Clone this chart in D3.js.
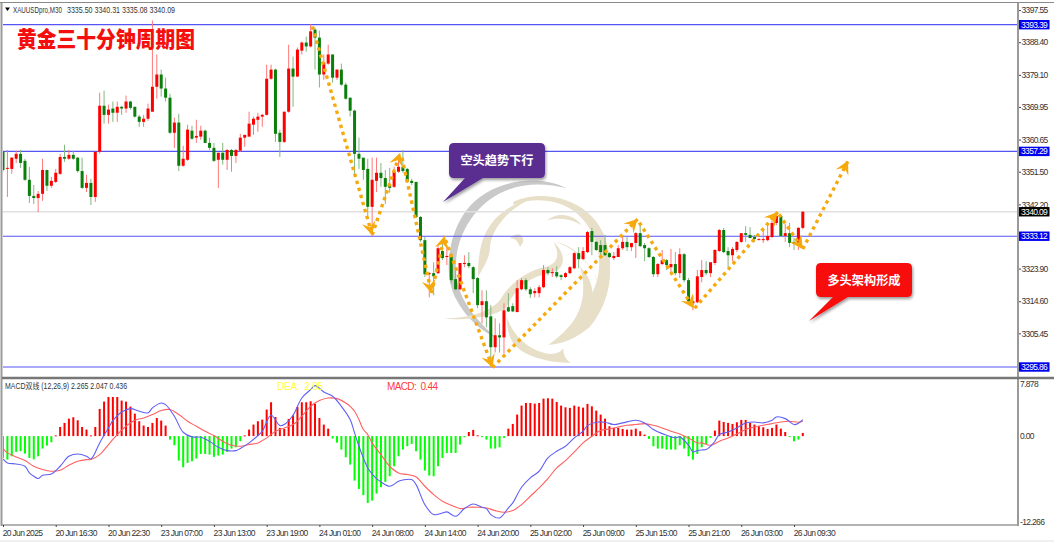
<!DOCTYPE html>
<html><head><meta charset="utf-8">
<style>
html,body{margin:0;padding:0;background:#fff;overflow:hidden}
svg{display:block}
text{font-family:"Liberation Sans","Noto Sans CJK SC",sans-serif}
.ax text{font-size:8.5px;fill:#333;letter-spacing:-.65px;font-family:"Liberation Sans","Noto Sans CJK SC",sans-serif}
.ax line{stroke:#444}
.ax path{display:none}
</style>
<script src="https://cdn.jsdelivr.net/npm/d3@7/dist/d3.min.js"></script>
</head><body><svg id="c" width="1054" height="542"></svg>
<script>
const opens=[3357.2,3352.4,3352.3,3355.2,3356.6,3354.6,3349.2,3344.6,3344.0,3345.2,
3352.0,3347.5,3348.6,3350.9,3355.7,3355.2,3356.3,3355.5,3351.7,3346.9,
3348.3,3344.3,3357.2,3370.3,3367.7,3369.5,3368.3,3370.0,3369.5,3371.5,
3370.0,3367.2,3365.7,3366.6,3368.6,3375.7,3379.2,3375.2,3372.6,3362.6,
3365.5,3353.2,3354.9,3363.2,3361.2,3361.5,3363.2,3359.7,3358.3,3354.9,
3356.9,3354.9,3357.7,3356.0,3357.5,3361.2,3361.5,3364.9,3366.3,3367.2,
3367.7,3378.0,3380.6,3362.6,3360.0,3368.6,3380.9,3378.6,3386.0,3388.3,
3387.2,3392.0,3389.7,3379.2,3382.3,3384.9,3378.3,3380.6,3376.3,3372.6,
3368.9,3356.6,3355.5,3352.3,3341.5,3348.9,3351.2,3349.7,3347.7,3347.2,
3351.5,3352.9,3352.3,3348.9,3348.6,3338.6,3332.0,3322.3,3322.6,3322.6,
3328.9,3327.2,3327.2,3320.9,3318.0,3325.2,3325.5,3324.3,3321.2,3313.5,
3314.6,3310.3,3301.5,3304.9,3304.3,3312.9,3313.2,3311.5,3318.0,3320.6,
3318.0,3316.9,3316.9,3318.6,3323.5,3322.6,3322.9,3322.0,3321.5,3322.6,
3324.0,3328.3,3326.6,3328.6,3334.6,3331.5,3330.6,3330.6,3328.3,3326.9,
3327.2,3329.7,3331.5,3330.0,3331.2,3334.0,3330.6,3329.7,3327.2,3322.3,
3325.2,3326.3,3324.3,3325.2,3322.6,3328.0,3320.6,3314.0,3314.3,3321.5,
3323.5,3322.6,3325.5,3328.9,3334.9,3328.9,3327.7,3329.2,3331.5,3334.0,
3333.5,3332.9,3332.3,3332.0,3332.0,3332.9,3336.9,3338.9,3333.2,3334.0,
3331.5,3330.6,3335.50];
const highs=[3357.2,3357.7,3355.7,3357.5,3357.7,3355.2,3352.9,3347.7,3346.0,3355.2,
3352.0,3350.0,3352.3,3356.6,3359.2,3357.7,3357.5,3355.7,3355.5,3350.6,
3349.5,3357.2,3374.0,3374.6,3370.6,3371.5,3371.5,3370.3,3373.2,3371.7,
3370.0,3367.7,3367.7,3370.9,3394.6,3384.9,3380.6,3378.3,3373.7,3366.9,
3368.0,3358.9,3364.9,3364.6,3366.3,3364.6,3363.5,3361.2,3359.7,3356.9,
3359.7,3358.0,3358.0,3358.0,3362.3,3362.0,3368.6,3367.2,3368.3,3368.0,
3382.0,3382.0,3380.9,3363.5,3368.6,3387.7,3384.3,3386.9,3388.6,3390.0,
3393.5,3392.6,3391.7,3384.9,3387.7,3384.9,3380.6,3382.3,3376.9,3372.6,
3369.2,3361.2,3355.5,3355.2,3355.5,3355.5,3354.0,3352.0,3352.6,3352.9,
3354.9,3357.7,3352.6,3349.5,3348.6,3338.9,3332.9,3322.9,3325.7,3330.6,
3331.5,3330.6,3328.3,3324.3,3325.5,3327.7,3328.6,3324.6,3321.5,3317.7,
3317.7,3313.5,3309.7,3308.3,3314.0,3316.9,3314.0,3320.6,3321.2,3321.2,
3318.6,3318.3,3319.2,3324.9,3324.3,3324.0,3324.6,3322.3,3322.9,3324.6,
3328.6,3330.0,3330.0,3334.6,3335.5,3331.7,3332.0,3333.5,3328.6,3328.6,
3330.6,3332.9,3332.9,3331.2,3334.3,3336.9,3331.2,3330.0,3327.5,3325.5,
3329.2,3326.6,3329.5,3328.6,3329.7,3328.3,3321.2,3316.3,3323.5,3326.3,
3326.0,3325.7,3329.5,3335.2,3335.5,3330.0,3330.0,3331.7,3334.0,3336.0,
3335.7,3333.5,3332.6,3334.9,3336.3,3337.5,3339.7,3339.2,3336.6,3336.9,
3332.6,3335.7,3340.31];
const lows=[3351.5,3344.3,3350.9,3354.0,3352.6,3348.9,3342.6,3342.3,3340.0,3343.2,
3346.0,3346.9,3348.3,3350.6,3354.3,3354.9,3354.9,3351.2,3346.6,3345.7,
3342.0,3342.9,3356.6,3365.2,3365.2,3365.7,3365.7,3367.7,3368.3,3369.2,
3366.9,3364.3,3364.3,3366.0,3368.6,3372.3,3372.9,3371.5,3362.3,3358.3,
3351.7,3352.9,3354.6,3360.6,3359.7,3360.6,3359.7,3357.7,3354.3,3346.9,
3353.5,3352.0,3351.5,3354.0,3357.2,3358.6,3361.5,3362.0,3362.9,3364.3,
3367.5,3377.7,3360.0,3355.7,3359.7,3368.3,3370.0,3378.6,3384.9,3385.7,
3386.9,3380.6,3375.5,3377.7,3382.0,3376.9,3377.7,3376.0,3372.0,3367.2,
3350.9,3352.3,3349.2,3338.6,3333.2,3345.7,3347.2,3342.3,3345.5,3346.9,
3351.2,3351.2,3348.3,3347.7,3338.3,3331.5,3321.5,3315.7,3316.3,3322.3,
3326.3,3324.9,3319.7,3317.7,3317.7,3324.3,3324.0,3316.9,3312.6,3308.3,
3307.2,3296.3,3300.0,3300.0,3299.7,3311.5,3311.5,3311.5,3317.7,3317.5,
3315.5,3315.7,3315.7,3318.3,3322.0,3321.5,3321.2,3320.6,3321.2,3322.3,
3323.7,3324.0,3326.3,3328.3,3327.7,3328.9,3327.2,3327.5,3326.9,3326.3,
3327.2,3329.2,3328.9,3328.9,3326.9,3330.0,3326.0,3326.9,3321.5,3321.5,
3324.9,3323.5,3322.6,3322.0,3321.2,3320.0,3314.0,3312.0,3314.0,3320.0,
3322.0,3321.5,3324.9,3328.6,3328.3,3324.3,3326.0,3328.6,3331.2,3331.5,
3332.6,3331.5,3332.0,3331.2,3331.7,3332.6,3336.3,3332.9,3331.5,3330.0,
3329.2,3329.2,3335.08];
const closes=[3352.0,3352.6,3355.5,3356.6,3354.0,3349.2,3344.6,3344.0,3345.2,3352.0,
3347.5,3348.9,3351.2,3355.7,3355.2,3356.3,3355.2,3351.7,3346.9,3348.3,
3344.3,3357.2,3370.3,3367.7,3369.2,3368.3,3370.0,3369.5,3371.5,3369.7,
3367.2,3365.7,3366.6,3369.5,3375.7,3379.2,3375.2,3372.6,3362.6,3365.5,
3353.2,3355.2,3363.5,3360.9,3361.7,3363.2,3359.7,3358.3,3354.6,3356.9,
3354.9,3357.7,3356.0,3357.7,3361.2,3362.0,3365.2,3366.6,3367.2,3367.7,
3378.0,3380.6,3362.3,3360.0,3368.6,3380.9,3378.6,3386.3,3388.3,3387.2,
3391.5,3389.7,3379.2,3382.6,3384.9,3378.3,3380.6,3376.3,3372.3,3368.9,
3356.6,3355.2,3352.0,3341.5,3349.2,3351.2,3349.7,3347.2,3346.9,3351.5,
3352.9,3351.7,3348.6,3348.3,3338.6,3332.0,3322.3,3322.6,3321.7,3329.7,
3326.9,3327.5,3320.6,3318.0,3325.5,3325.5,3324.6,3320.9,3313.5,3314.6,
3310.0,3301.5,3304.9,3304.3,3312.0,3311.7,3311.7,3318.3,3320.6,3318.0,
3316.6,3317.5,3318.6,3323.5,3322.6,3322.9,3321.7,3321.5,3322.6,3324.3,
3328.3,3326.6,3328.9,3334.3,3331.5,3329.2,3328.6,3327.7,3327.2,3327.5,
3329.7,3331.5,3330.0,3331.2,3334.0,3330.3,3329.7,3327.2,3322.3,3325.2,
3326.3,3324.9,3325.2,3322.6,3328.0,3320.6,3314.6,3314.6,3321.7,3323.5,
3322.6,3325.7,3329.2,3334.9,3328.6,3327.7,3329.5,3331.5,3334.0,3333.5,
3332.6,3332.3,3332.3,3332.3,3333.2,3336.9,3338.9,3333.2,3334.0,3331.2,
3330.9,3335.5,3340.09];
const histogram=[-3.0,-3.24,-2.78,-2.18,-2.09,-2.41,-3.01,-3.2,-2.78,-1.72,-1.31,-.85,.1,1.26,1.82,2.41,2.6,2.18,1.26,.9,
.1,1.26,3.75,4.76,5.4,5.4,5.4,4.9,4.76,4.07,3.1,2.05,1.45,1.26,1.82,2.5,2.14,1.45,-.48,-1.26,
-3.38,-4.3,-3.7,-3.47,-3.1,-2.46,-2.46,-2.55,-2.87,-2.69,-2.55,-2.18,-1.72,-1.54,-.71,.1,.9,1.59,2.05,2.28,
3.66,4.67,2.64,1.13,.99,2.37,2.87,4.02,4.67,4.67,4.8,4.44,2.5,1.59,1.03,-.34,-.9,-1.86,-2.92,-3.93,
-6.14,-7.29,-8.16,-9.22,-8.9,-7.93,-7.06,-6.32,-5.54,-4.16,-2.78,-1.86,-1.4,-1.08,-2.09,-3.24,-4.76,-5.45,-5.54,-4.16,
-3.01,-2.32,-2.32,-2.32,-1.17,-.16,.57,.85,.11,-.02,-.48,-1.72,-1.72,-1.54,-.25,1.03,1.68,2.97,4.21,4.57,
4.57,4.48,4.57,5.17,5.22,5.17,4.71,4.21,3.98,3.89,4.21,4.07,3.93,4.44,4.11,3.52,2.97,2.41,1.36,1.13,
1.13,.99,.9,.9,1.03,.67,.21,-.39,-1.4,-1.72,-1.72,-1.86,-1.86,-1.86,-1.26,-1.72,-2.78,-3.24,-2.46,-1.54,
-1.08,-.25,.76,2.14,1.95,1.82,1.68,1.91,2.23,2.23,1.82,1.59,1.36,1.22,.99,1.13,1.59,1.03,.57,-.07,
-.71,-.48,.44];
const macdBars=[0,1,3,5,6,7,8,9,11,13,15,17,19,20,22,24,25,27,29,31,33,34,36,37,39,41,43,45,47,49,51,53,54,56,58,59,61,63,64,66,68,70,71,73,75,77,79,80,81,82,83,84,85,86,88,90,91,93,94,96,98,100,101,103,105,107,109,110,111,113,115,116,118,120,122,124,126,128,130,132,133,135,137,139,141,144,146,148,150,153,154,156,157,158,159,160,161,162,163,165,167,169,171,173,175,176,178,180,181,182];
const macdValues=[-3.15,-3.7,-3.84,-4.16,-5.08,-5.54,-5.86,-5.4,-5.22,-4.16,-2.78,-2.46,-2.78,-3.15,-.94,1.13,2.14,3.33,3.79,3.43,3.2,3.89,4.57,4.34,2.74,.53,-.11,-.16,-.71,-1.54,-2.0,-2.0,-1.72,-.94,.07,.67,2.87,1.45,1.59,2.87,5.26,6.41,6.97,6.09,5.49,4.11,2.28,.44,-1.4,-3.01,-4.39,-5.22,-5.86,-6.32,-6.92,-6.23,-6.05,-6.0,-6.69,-9.45,-10.83,-10.6,-10.46,-11.06,-10.0,-9.36,-9.82,-10.0,-10.83,-11.29,-9.91,-9.22,-7.06,-5.77,-4.85,-3.01,-2.09,-1.4,-.25,.67,1.45,1.91,1.91,1.59,1.82,2.18,1.82,.9,.34,-.25,-.11,-1.26,-2.18,-2.0,-1.91,-1.86,-1.4,-.71,.21,.57,1.13,1.82,1.95,1.82,2.18,2.64,2.41,1.59,1.77,2.265];
const deaBars=[0,1,3,5,7,9,11,13,15,17,19,20,22,24,26,28,30,32,34,36,38,40,42,44,46,48,50,52,54,56,58,60,62,64,66,68,70,72,74,76,78,79,80,81,82,83,84,86,88,90,92,94,96,98,100,102,104,106,108,110,112,114,116,118,120,122,124,126,128,130,132,134,136,138,140,142,144,146,148,150,152,154,156,158,159,161,163,165,167,169,171,173,175,177,179,181,182];
const deaValues=[-1.72,-2.32,-2.87,-3.38,-4.16,-4.62,-4.85,-4.71,-4.02,-3.47,-3.24,-3.24,-2.55,-1.17,.21,1.36,2.18,2.51,2.97,3.52,3.66,2.97,2.05,1.36,.67,.07,-.71,-1.26,-1.4,-1.17,-.94,-.25,.67,1.13,1.59,2.74,4.11,4.9,5.26,5.17,4.57,4.11,3.43,2.28,.9,.21,-.94,-2.55,-4.16,-5.08,-5.31,-5.63,-6.92,-8.07,-8.99,-9.54,-10.0,-9.82,-9.82,-9.91,-10.28,-10.51,-10.28,-9.45,-8.3,-7.15,-5.86,-4.39,-3.38,-2.18,-.94,-.02,.76,.99,1.26,1.49,1.59,1.72,1.49,1.13,.67,.3,-.25,-.94,-.94,-1.26,-.71,-.25,.3,.9,1.26,1.49,1.72,1.95,2.05,1.91,2.047];
const timeTicks=[0,12,24,36,48,60,72,84,96,108,120,132,144,156,168,180];
const timeLabels=["20 Jun 2025","20 Jun 16:30","20 Jun 22:30","23 Jun 07:00","23 Jun 13:00","23 Jun 19:00","24 Jun 01:00","24 Jun 08:00","24 Jun 14:00","24 Jun 20:00","25 Jun 02:00","25 Jun 09:00","25 Jun 15:00","25 Jun 21:00","26 Jun 03:00","26 Jun 09:30"];
const priceTicks=[3397.55,3388.40,3379.10,3369.95,3360.65,3351.50,3342.20,3323.90,3314.60,3305.45];
const levels=[3393.39,3357.29,3333.12,3295.86];
const lastPrice=3340.09;
const macdTicks=[7.878,0,-12.266];
const macdTickLabels=["7.878","0.00","-12.266"];
const arrowBars=[[70.4,84],[84,90.4],[90.8,97.5],[97.5,100.5],[100.7,111.4],[111.4,144.4],[144.8,157.2],[157.4,176.3],[176.6,182],[182,192.3]];
const arrowPrices=[[3392.9,3333.5],[3333.5,3356.9],[3355.5,3316.9],[3316.9,3333.2],[3332,3295.7],[3295.7,3338],[3337,3312.6],[3312.6,3340],[3339.3,3329.5],[3329.5,3354.6]];

const svg=d3.select('#c');
const x=d3.scaleLinear().domain([0,182]).range([3,802.8]);
const y=d3.scaleLinear().domain([3295.86,3393.39]).range([367,24.7]);
const ym=d3.scaleLinear().domain([-12.266,7.878]).range([525,379]);
const idx=d3.range(opens.length);

svg.append('defs').html(`<clipPath id="main"><rect x="3" y="4" width="1015" height="373"/></clipPath>
<clipPath id="sub"><rect x="3" y="380" width="1015" height="145"/></clipPath>
<filter id="sh" x="-20%" y="-20%" width="140%" height="150%"><feDropShadow dx="1" dy="2" stdDeviation="1.6" flood-color="#000" flood-opacity=".4"/></filter>`);

// watermark
const wm=svg.append('g').attr('transform','translate(350,130) scale(.3333)');
wm.append('path').attr('fill','#c9c9c9').attr('d','M650,175 C560,130 420,150 350,240 C290,320 280,440 320,510 C345,560 390,600 440,625 C380,570 310,500 318,400 C320,320 370,230 450,190 C520,155 590,160 650,175 Z');
[
'M490,215 C600,170 720,220 760,310 C800,410 780,520 720,590 C680,625 640,640 595,645 C660,600 710,530 735,470 C770,380 730,270 650,230 C600,205 540,205 490,225 Z',
'M540,208 C470,225 415,270 395,340 C380,400 385,440 385,440 C400,410 420,385 420,350 C425,300 470,240 540,208 Z',
'M480,325 C500,305 520,310 520,335 L510,352 C505,335 495,325 480,325 Z',
'M590,272 C620,245 670,250 695,285 C660,265 620,262 590,272 Z',
'M610,335 C650,370 650,420 600,430 C540,440 500,470 470,530 C450,555 350,575 280,565 C360,565 420,545 450,510 C480,460 530,420 590,410 C625,400 630,370 610,335 Z',
'M470,560 C490,620 540,665 600,672 C630,672 635,660 640,655 C640,680 650,690 662,698 C600,700 520,680 490,640 C475,615 470,590 470,560 Z',
'M690,410 C750,470 750,560 600,640 C680,590 720,510 690,410 Z',
'M615,335 C680,345 750,420 755,520 C760,450 700,360 615,335 Z'
].forEach(d=>wm.append('path').attr('fill','#e8dfc9').attr('d',d));

const main=svg.append('g').attr('clip-path','url(#main)');
main.selectAll('.lvl').data(levels).join('line').attr('x1',3).attr('x2',1018).attr('y1',d=>y(d)).attr('y2',d=>y(d)).attr('stroke','#5555f5').attr('stroke-width',1.2);
main.append('line').attr('x1',3).attr('x2',1018).attr('y1',y(lastPrice)).attr('y2',y(lastPrice)).attr('stroke','#e0e0e0').attr('stroke-width',1.6);

main.selectAll('.wick').data(idx).join('line').attr('x1',i=>x(i)).attr('x2',i=>x(i)).attr('y1',i=>y(highs[i])).attr('y2',i=>y(lows[i]))
 .attr('stroke',i=>closes[i]>=opens[i]?'#ff7878':'#80b880').attr('stroke-width',1);
main.selectAll('.body').data(idx).join('rect').attr('x',i=>x(i)-1.5).attr('width',3)
 .attr('y',i=>y(Math.max(opens[i],closes[i]))).attr('height',i=>Math.max(1,Math.abs(y(opens[i])-y(closes[i]))))
 .attr('fill',i=>closes[i]>=opens[i]?'#ff0000':'#0a7f0a');

// arrows
const aline=d3.line().x(d=>d[0]).y(d=>d[1]);
const ag=svg.append('g');
arrowBars.forEach((b,k)=>{
  const p=arrowPrices[k];
  const a=[x(b[0]),y(p[0])], e=[x(b[1]),y(p[1])];
  ag.append('path').attr('d',aline([a,e])).attr('fill','none').attr('stroke','#f6a90d').attr('stroke-width',3.4).attr('stroke-dasharray','3.4 3.9');
  const t=Math.atan2(e[1]-a[1],e[0]-a[0]);
  const pt=(l,w)=>[e[0]+l*Math.cos(t)-w*Math.sin(t),e[1]+l*Math.sin(t)+w*Math.cos(t)];
  ag.append('path').attr('fill','#f6a90d').attr('d',aline([pt(0,0),pt(-13,7),pt(-8,0),pt(-13,-7)])+'Z');
});

// callouts
function callout(rx,ry,rw,rh,bx1,bx2,tx,ty,fill,label){
  const g=svg.append('g').attr('filter','url(#sh)');
  g.append('path').attr('fill',fill).attr('d',`M${rx+5},${ry}H${rx+rw-5}Q${rx+rw},${ry} ${rx+rw},${ry+5}V${ry+rh-5}Q${rx+rw},${ry+rh} ${rx+rw-5},${ry+rh}H${bx2}L${tx},${ty}L${bx1},${ry+rh}H${rx+5}Q${rx},${ry+rh} ${rx},${ry+rh-5}V${ry+5}Q${rx},${ry} ${rx+5},${ry}Z`);
  svg.append('text').attr('x',rx+rw/2).attr('y',ry+rh/2+4.5).attr('text-anchor','middle').attr('fill','#fff').attr('font-size','12.2px').attr('font-weight','700').style('font-family','"Noto Sans CJK SC"').text(label);
}
callout(449,143,96,35,465,483,443,202,'#5a2d90','空头趋势下行');
callout(816,263,96,34,833,848,809,321,'#f80d0d','多头架构形成');

svg.append('text').attr('x',17).attr('y',47).attr('fill','#f40f0f').attr('font-size','22px').attr('font-weight','900').attr('textLength',178).attr('lengthAdjust','spacingAndGlyphs').style('font-family','"Noto Sans CJK SC"').text('黄金三十分钟周期图');

// MACD
const sub=svg.append('g').attr('clip-path','url(#sub)');
sub.selectAll('.h').data(idx).join('rect').attr('x',i=>x(i)-1).attr('width',2)
 .attr('y',i=>Math.min(ym(0),ym(histogram[i]))).attr('height',i=>Math.max(1,Math.abs(ym(histogram[i])-ym(0))))
 .attr('fill',i=>histogram[i]>=0?'#ff0000':'#00ff00');
const curve=d3.curveCatmullRom.alpha(.5);
sub.append('path').attr('d',d3.line().curve(curve).x((d,k)=>x(deaBars[k])).y(d=>ym(d))(deaValues)).attr('fill','none').attr('stroke','#ff6060').attr('stroke-width',1.1);
sub.append('path').attr('d',d3.line().curve(curve).x((d,k)=>x(macdBars[k])).y(d=>ym(d))(macdValues)).attr('fill','none').attr('stroke','#6060f5').attr('stroke-width',1.1);

// frame
const frame=svg.append('g').attr('fill','none');
frame.append('rect').attr('x',0).attr('y',540).attr('width',1054).attr('height',2).attr('fill','#f0f0f0');
frame.append('line').attr('x1',0).attr('x2',1054).attr('y1',2.5).attr('y2',2.5).attr('stroke','#8a8a8a').attr('stroke-width',1);
frame.append('line').attr('x1',1.5).attr('x2',1.5).attr('y1',3).attr('y2',526).attr('stroke','#9a9a9a').attr('stroke-width',2);
frame.append('line').attr('x1',1018).attr('x2',1018).attr('y1',3).attr('y2',526).attr('stroke','#9a9a9a').attr('stroke-width',2);
frame.append('line').attr('x1',2).attr('x2',1054).attr('y1',378).attr('y2',378).attr('stroke','#777').attr('stroke-width',2.4);
frame.append('line').attr('x1',2).attr('x2',1019).attr('y1',525).attr('y2',525).attr('stroke','#9a9a9a').attr('stroke-width',1.4);

// axes
const ax=svg.append('g').attr('class','ax').attr('transform','translate(1019,0)').call(d3.axisRight(y).tickValues(priceTicks).tickSize(2).tickPadding(.5).tickFormat(d3.format('.2f')));
const axm=svg.append('g').attr('class','ax').attr('transform','translate(1019,0)').call(d3.axisRight(ym).tickValues(macdTicks).tickSize(0).tickPadding(1).tickFormat((d,k)=>macdTickLabels[k]));
axm.selectAll('text').attr('dy',(d,k)=>k===0?'.9em':k===2?'-.1em':'.32em');
const bx=svg.append('g').attr('class','ax').attr('transform','translate(0,525)').call(d3.axisBottom(x).tickValues(timeTicks).tickSize(2).tickPadding(3).tickFormat((d,k)=>timeLabels[k]));
bx.selectAll('text').attr('text-anchor','start').attr('dx','-.1em');

// price tags
const tags=svg.append('g');
function tag(v,fill){
  tags.append('rect').attr('x',1019).attr('y',y(v)-4.7).attr('width',30.5).attr('height',9.4).attr('fill',fill);
  tags.append('text').attr('x',1021).attr('y',y(v)+3).attr('font-size','8.5px').attr('letter-spacing','-.65px').attr('fill','#fff').text(d3.format('.2f')(v));
}
levels.forEach(v=>tag(v,'#0000f0'));
tag(lastPrice,'#000');

// legends
svg.append('path').attr('d','M5,7.5L10,7.5L7.5,11Z').attr('fill','#000');
svg.append('text').attr('x',13).attr('y',12.5).attr('font-size','8.5px').attr('fill','#333').attr('textLength',49).attr('lengthAdjust','spacingAndGlyphs').text('XAUUSDpro,M30');
svg.append('text').attr('x',67).attr('y',12.5).attr('font-size','8.5px').attr('fill','#333').attr('textLength',108).attr('lengthAdjust','spacingAndGlyphs').text('3335.50 3340.31 3335.08 3340.09');
svg.append('text').attr('x',5).attr('y',389).attr('font-size','8.5px').attr('fill','#333').attr('textLength',122).attr('lengthAdjust','spacingAndGlyphs').text('MACD双线 (12,26,9) 2.265 2.047 0.436');
svg.append('text').attr('x',277).attr('y',389.5).attr('font-size','10px').attr('fill','#ffff3c').attr('textLength',46).style('white-space','pre').text('DEA:  2.05');
svg.append('text').attr('x',387).attr('y',389.5).attr('font-size','10px').attr('fill','#ff3b3b').attr('textLength',51).style('white-space','pre').text('MACD:  0.44');
</script></body></html>
